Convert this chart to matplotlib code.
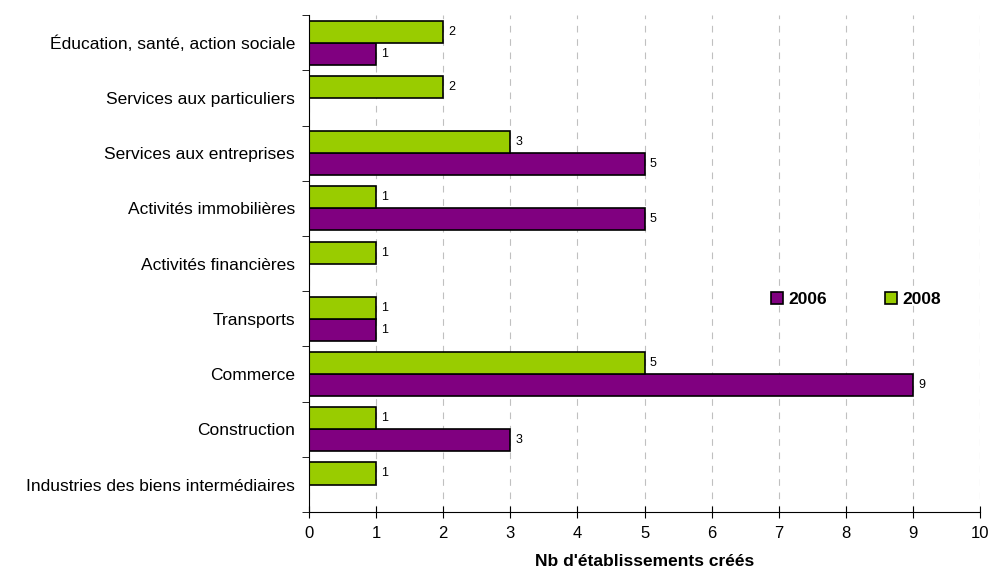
import numpy as np
import matplotlib.pyplot as plt

plt.rcParams['font.family'] = ['Liberation Sans', 'DejaVu Sans']

categories = ["Industries des biens intermédiaires", "Construction", "Commerce",
              "Transports", "Activités financières", "Activités immobilières",
              "Services aux entreprises", "Services aux particuliers",
              "Éducation, santé, action sociale"]
val_2006 = [np.nan, 3, 9, 1, np.nan, 5, 5, np.nan, 1]
val_2008 = [1, 1, 5, 1, 1, 1, 3, 2, 2]

fig = plt.figure(figsize=(9.89, 5.8), dpi=100)
ax = fig.add_axes([0.3124, 0.117, 0.6786, 0.857])

y = np.arange(len(categories))
h = 0.4
b06 = ax.barh(y - h / 2, val_2006, height=h, color="#800080", edgecolor="black",
              linewidth=1.2, label="2006")
b08 = ax.barh(y + h / 2, val_2008, height=h, color="#99CC00", edgecolor="black",
              linewidth=1.2, label="2008")

for bars, vals in ((b06, val_2006), (b08, val_2008)):
    for bar, v in zip(bars, vals):
        if np.isnan(v):
            continue
        ax.text(v + 0.08, bar.get_y() + bar.get_height() / 2, f"{v:g}",
                va="center", ha="left", fontsize=9)

ax.set_xlim(0, 10)
ax.set_ylim(-0.5, len(categories) - 0.5)
ax.set_xticks(range(0, 11))
ax.tick_params(axis="x", direction="inout", length=8, labelsize=12, pad=6)
ax.set_yticks(y)
ax.set_yticklabels(categories, fontsize=12.5)
ax.set_yticks(np.arange(-0.5, len(categories)), minor=True)
ax.tick_params(axis="y", which="major", length=0, pad=10)
ax.tick_params(axis="y", which="minor", length=5, direction="out")

ax.grid(axis="x", color="#c0c0c0", linestyle=(0, (6, 6)), linewidth=0.8)
ax.set_axisbelow(True)
for s in ("top", "right"):
    ax.spines[s].set_visible(False)

ax.set_xlabel("Nb d'établissements créés", fontsize=12.5, fontweight="bold", labelpad=9)

leg = ax.legend(loc="center", bbox_to_anchor=(0.815, 0.427), ncol=2, frameon=False,
                prop={"weight": "bold", "size": 12.5}, handlelength=0.7,
                handleheight=0.7, columnspacing=3.3, handletextpad=0.3)

fig.savefig("out.png", dpi=100)
